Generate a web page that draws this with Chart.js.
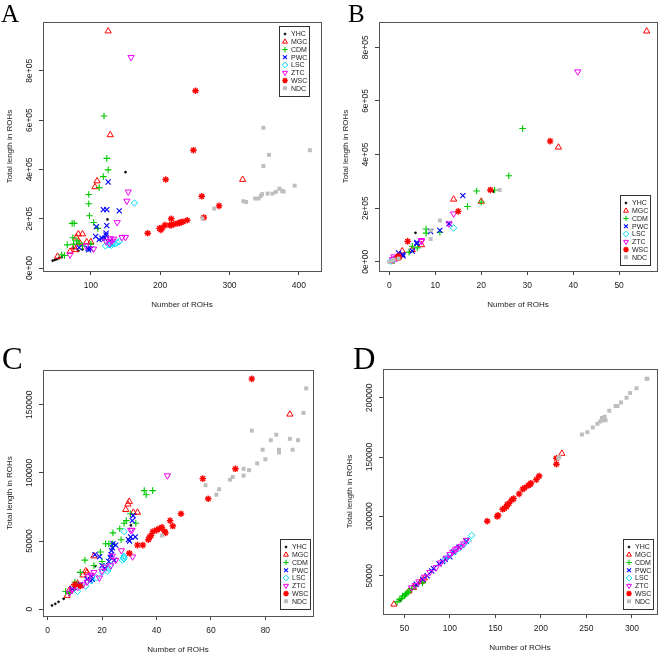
<!doctype html>
<html lang="en">
<head>
<meta charset="utf-8">
<title>ROHs</title>
<script src="https://cdn.jsdelivr.net/npm/chart.js@4/dist/chart.umd.min.js"></script>
<style>
  body { margin: 0; background: #fff; }
  #grid { display: grid; grid-template-columns: 329px 329px; grid-template-rows: 326px 326px; width: 658px; }
  canvas { display: block; }
</style>
</head>
<body>
<div id="grid">
  <canvas id="pA" width="329" height="326"></canvas>
  <canvas id="pB" width="329" height="326"></canvas>
  <canvas id="pC" width="329" height="326"></canvas>
  <canvas id="pD" width="329" height="326"></canvas>
</div>
<script>
// groups (legend order)
const groupNames = ['YHC', 'MGC', 'CDM', 'PWC', 'LSC', 'ZTC', 'WSC', 'NDC'];

// data: [number of ROHs, total length in ROHs / 1000]
// panel A
const aYHC = [[45,30],[48,33],[51,36],[54,40],[58,44],[75,80],[82,70],[88,76],[124,197],[150,389]];
const aMGC = [[52,47],[70,67],[76,85],[78,74],[79,125],[82,138],[84,102],[88,138],[94,106],[100,106],[106,329],[109,353],[125,961],[128,540],[319,359]];
const aCDM = [[58,54],[62,51],[66,94],[73,181],[76,181],[74,123],[75,97],[80,110],[83,101],[88,90],[97,298],[97,261],[98,212],[100,97],[104,185],[110,161],[112,326],[118,371],[119,617],[123,445],[125,398]];
const aPWC = [[83,83],[96,80],[97,74],[100,78],[107,128],[108,168],[112,115],[116,121],[118,237],[120,121],[122,141],[122,133],[123,172],[123,237],[125,349],[128,110],[141,232]];
const aLSC = [[121,90],[126,94],[128,96],[130,92],[132,100],[135,98],[138,103],[141,107],[163,264]];
const aZTC = [[70,54],[93,90],[104,78],[122,108],[127,100],[128,120],[130,110],[133,118],[138,185],[145,125],[150,125],[152,272],[154,309],[158,855]];
const aWSC = [[182,141],[199,161],[201,155],[203,163],[207,174],[208,359],[214,174],[216,174],[216,200],[220,178],[225,181],[228,183],[230,186],[233,188],[239,194],[248,478],[251,719],[260,291],[263,205],[285,252]];
const aNDC = [[261,201],[278,241],[320,271],[324,268],[337,282],[342,282],[345,292],[347,300],[349,414],[349,569],[355,302],[357,459],[362,302],[367,309],[372,322],[376,313],[378,310],[394,334],[416,478]];

// panel B
const bYHC = [[0.3,3],[1,6],[2,12],[3,22],[5.7,108],[22.7,262]];
const bMGC = [[0.5,2],[2.8,40],[5,45],[7,63],[14,233],[20,225],[36.8,427],[56,860]];
const bCDM = [[1,5],[2,15],[4.3,36],[5,58],[6.1,52],[8,122],[8,107],[11,110],[17,206],[19,264],[20,222],[22.9,268],[26,321],[29,497]];
const bPWC = [[2,33],[2.9,27],[3,22],[5,40],[6,72],[6,68],[9,113],[11,117],[13,142],[16,247]];
const bLSC = [[0.3,2],[1,8],[14,126]];
const bZTC = [[0.7,9],[1,19],[1.4,12],[1.7,15],[7,80],[7,76],[13,142],[14,179],[41,709]];
const bWSC = [[1.7,15],[2,21],[2.1,15],[4,76],[15,188],[22,268],[35,450]];
const bNDC = [[0,0],[0.7,5],[1,8],[2,12],[9,117],[9,85],[11,154],[24,268]];

// panel C
const cYHC = [[1.6,2.7],[2.8,3.9],[4,5.4],[5.9,7.6],[8,11],[10,15],[12,18],[17.5,31.6],[30.6,61.5]];
const cMGC = [[7.2,10],[8,14],[9,16],[10.5,18],[11,19],[13,25],[14,28],[14.5,27],[17,39],[28.7,73],[29.5,77],[30,79],[31.5,71],[33,71],[89,143]];
const cCDM = [[6.6,13],[8,12],[10,20],[12,27],[13.7,36],[17,32],[19.4,42],[20,35],[21.3,48],[22.5,48],[23.8,48],[24,56],[26.5,59],[27,51],[28.1,63],[28.9,65],[30.4,70],[32.4,63],[35.5,87],[36.2,84],[38.6,87]];
const cPWC = [[9,15],[12,18],[14.5,22],[15.7,21],[16,24],[16.4,22],[17.4,40],[19.1,38.5],[20,32],[21,30],[22.5,35],[23,38],[23.3,40],[23.5,43],[23.8,45],[24,48],[24.5,36],[25,47],[29.7,51],[30.1,50],[30.5,53],[31.1,65],[31.4,68.6],[32.2,53]];
const cLSC = [[11,13],[14,17],[16,21],[18,23],[20,27],[21,31],[22,28],[22.5,30],[23,32],[27.5,36],[28,38],[28,37],[28.1,39],[28.1,57]];
const cZTC = [[8,12],[9,14],[11,16],[13,18],[14.5,20],[15,24],[16,25],[17,27],[19,23],[20,28],[21,31],[23.2,32],[23.8,39],[25,36],[27.1,43],[30.5,58],[31,58],[31.2,38.5],[44,98]];
const cWSC = [[10,18],[12,17],[30,41],[33,47],[35,47],[37,51],[37.5,53],[38,54],[38.7,57],[40,58],[41,59],[42,60],[43,57],[43.3,56],[45,65],[46,61],[49,70],[57,95.8],[59,81],[69,103],[75,169]];
const cNDC = [[42,54],[58,91],[62,84],[63,88],[67,95],[68,97],[72,98],[72,103],[74,102],[75,131],[77,107],[79,117],[80,110],[82,124],[84,128],[85,117],[85,115],[89,125],[90,117],[92,124],[94,144],[95,162]];

// panel D
const dYHC = [[45,29],[52,35],[58,39],[63,42],[68,46],[80,54]];
const dMGC = [[38.5,26],[55,37],[60,40],[68,45],[70,46],[72,48],[223,153]];
const dCDM = [[42,28],[45,30],[47,31],[48,33],[50,33],[51,34],[52,35],[54,36],[55,37],[58,39],[62,41],[70,44]];
const dPWC = [[63,43],[70,47],[75,50],[80,54],[82,56],[88,60],[92,62],[95,64],[100,66],[104,70],[110,74],[118,79]];
const dLSC = [[95,64],[98,66],[105,70],[110,73],[115,76],[120,80],[124,84]];
const dZTC = [[58,40],[62,42],[66,45],[72,49],[78,53],[85,57],[90,61],[96,65],[100,68],[103,70],[106,72],[108,73],[112,75],[115,77],[118,80]];
const dWSC = [[141,96],[152,100],[153,101],[158,106],[160,107],[162,108],[163,110],[165,111],[168,114],[170,115],[176,119],[180,123],[182,124],[186,126],[188,127],[189,128],[195,131],[198,134],[217,144],[217,149]];
const dNDC = [[219,149],[220,150],[245,169],[251,171],[257,175],[262,178],[265,180],[267,183],[268,181],[270,184],[271,181],[275,189],[282,193],[284,193],[288,196],[294,200],[298,204],[305,208],[316,216],[317,216]];

// ticks
const aXTicks = [100, 200, 300, 400];
const bXTicks = [0, 10, 20, 30, 40, 50];
const cXTicks = [0, 20, 40, 60, 80];
const dXTicks = [50, 100, 150, 200, 250, 300];
const sciYTicks = [0, 200000, 400000, 600000, 800000];
const sciYLabels = ['0e+00', '2e+05', '4e+05', '6e+05', '8e+05'];
const cYTicks = [0, 50000, 100000, 150000];
const dYTicks = [50000, 100000, 150000, 200000];

// R-like symbols for each group
const groupColors = ['#000000', '#ff0000', '#00c800', '#0000ff', '#00dcf5', '#f000f0', '#ff0000', '#bebebe'];
const groupStyles = [
  { pointStyle: 'circle', radius: 1.1, fill: true, bw: 0.5 },
  { pointStyle: 'triangle', radius: 3.6, bw: 1 },
  { pointStyle: 'cross', radius: 3.3, bw: 1.1 },
  { pointStyle: 'crossRot', radius: 3.6, bw: 1.1 },
  { pointStyle: 'rectRot', radius: 3.2, bw: 1 },
  { pointStyle: 'triangle', radius: 3.6, rot: 180, bw: 1 },
  { pointStyle: 'star', radius: 3.3, bw: 1.4 },
  { pointStyle: 'rect', radius: 2.8, fill: true, bw: 0 }
];

const SANS = '"Liberation Sans", Arial, Helvetica, sans-serif';
const SERIF = '"Liberation Serif", "Times New Roman", serif';

function rPlot(cfg) {
  return {
    id: 'rPlot',
    afterDraw(chart) {
      const ctx = chart.ctx, ca = chart.chartArea;
      const xs = chart.scales.x, ys = chart.scales.y;
      ctx.save();
      // box
      ctx.strokeStyle = '#555';
      ctx.lineWidth = 1;
      ctx.strokeRect(Math.round(ca.left) + 0.5, Math.round(ca.top) + 0.5,
        Math.round(ca.right - ca.left), Math.round(ca.bottom - ca.top));
      // tick labels
      ctx.fillStyle = '#222';
      ctx.font = '8.5px ' + SANS;
      ctx.textAlign = 'center';
      ctx.textBaseline = 'middle';
      cfg.xTicks.forEach(v => ctx.fillText(String(v), xs.getPixelForValue(v), ca.bottom + 14.7));
      cfg.yTicks.forEach((v, i) => {
        ctx.save();
        ctx.translate(ca.left - 13.5, ys.getPixelForValue(v));
        ctx.rotate(-Math.PI / 2);
        ctx.fillText(cfg.yLabels[i], 0, 0);
        ctx.restore();
      });
      // axis titles
      ctx.font = '8px ' + SANS;
      ctx.fillText('Number of ROHs', (ca.left + ca.right) / 2, ca.bottom + 34);
      ctx.save();
      ctx.translate(ca.left - 33, (ca.top + ca.bottom) / 2);
      ctx.rotate(-Math.PI / 2);
      ctx.fillText('Total length in ROHs', 0, 0);
      ctx.restore();
      // panel letter
      ctx.fillStyle = '#000';
      ctx.font = cfg.letter.size + 'px ' + SERIF;
      ctx.textAlign = 'left';
      ctx.textBaseline = 'alphabetic';
      ctx.fillText(cfg.letter.text, cfg.letter.x, cfg.letter.y);
      // legend
      const lg = cfg.legend, w = 30, h = 70, rowH = 7.75;
      const x0 = Math.round(ca.right - lg.dx - w);
      const y0 = Math.round(lg.top ? ca.top + lg.dy : ca.bottom - lg.dy - h);
      ctx.fillStyle = '#fff';
      ctx.fillRect(x0, y0, w, h);
      ctx.strokeStyle = '#333';
      ctx.strokeRect(x0 + 0.5, y0 + 0.5, w, h);
      ctx.font = '7px ' + SANS;
      ctx.textBaseline = 'middle';
      chart.data.datasets.forEach((ds, i) => {
        const cy = y0 + 8 + rowH * i;
        ctx.fillStyle = ds.backgroundColor;
        ctx.strokeStyle = ds.borderColor;
        ctx.lineWidth = ds.borderWidth;
        Chart.helpers.drawPoint(ctx, {
          pointStyle: ds.pointStyle, rotation: ds.pointRotation,
          radius: Math.min(ds.pointRadius, 2.8), borderWidth: ds.borderWidth
        }, x0 + 6, cy);
        ctx.fillStyle = '#222';
        ctx.fillText(ds.label, x0 + 12, cy + 0.5);
      });
      ctx.restore();
    }
  };
}

function makePanel(id, series, cfg) {
  const datasets = series.map((pts, i) => {
    const st = groupStyles[i];
    return {
      label: groupNames[i],
      data: pts.map(p => ({ x: p[0], y: p[1] * 1000 })),
      pointStyle: st.pointStyle,
      pointRadius: st.radius,
      pointRotation: st.rot || 0,
      borderColor: groupColors[i],
      backgroundColor: st.fill ? groupColors[i] : 'rgba(0,0,0,0)',
      borderWidth: st.bw,
      order: series.length - i,
      clip: false
    };
  });
  new Chart(document.getElementById(id), {
    type: 'scatter',
    data: { datasets },
    options: {
      responsive: false,
      animation: false,
      events: [],
      layout: { autoPadding: false, padding: { top: cfg.box.top, right: cfg.box.right, left: 0, bottom: 0 } },
      plugins: { legend: { display: false }, tooltip: { enabled: false } },
      scales: {
        x: {
          type: 'linear', min: cfg.xRange[0], max: cfg.xRange[1],
          afterBuildTicks: s => { s.ticks = cfg.xTicks.map(v => ({ value: v })); },
          afterFit: s => { s.height = cfg.box.bottom; },
          ticks: { display: false },
          grid: { drawOnChartArea: false, drawTicks: true, tickLength: 4, tickColor: '#444', tickWidth: 1 },
          border: { display: false }
        },
        y: {
          type: 'linear', min: cfg.yRange[0], max: cfg.yRange[1],
          afterBuildTicks: s => { s.ticks = cfg.yTicks.map(v => ({ value: v })); },
          afterFit: s => { s.width = cfg.box.left; },
          ticks: { display: false },
          grid: { drawOnChartArea: false, drawTicks: true, tickLength: 4, tickColor: '#444', tickWidth: 1 },
          border: { display: false }
        }
      }
    },
    plugins: [rPlot(cfg)]
  });
}

makePanel('pA', [aYHC, aMGC, aCDM, aPWC, aLSC, aZTC, aWSC, aNDC], {
  xRange: [31, 432], yRange: [-12000, 998000],
  xTicks: aXTicks, yTicks: sciYTicks, yLabels: sciYLabels,
  box: { left: 43, right: 8, top: 22, bottom: 55 },
  legend: { top: true, dx: 12, dy: 4 },
  letter: { text: 'A', x: 1, y: 21.5, size: 25 }
});
makePanel('pB', [bYHC, bMGC, bCDM, bPWC, bLSC, bZTC, bWSC, bNDC], {
  xRange: [-2.24, 58.24], yRange: [-34400, 894400],
  xTicks: bXTicks, yTicks: sciYTicks, yLabels: sciYLabels,
  box: { left: 50, right: 1, top: 22, bottom: 55 },
  legend: { top: false, dx: 7, dy: 6 },
  letter: { text: 'B', x: 19, y: 21.5, size: 25 }
});
makePanel('pC', [cYHC, cMGC, cCDM, cPWC, cLSC, cZTC, cWSC, cNDC], {
  xRange: [-1.7, 97.5], yRange: [-5000, 175500],
  xTicks: cXTicks, yTicks: cYTicks, yLabels: cYTicks.map(String),
  box: { left: 43, right: 16, top: 44, bottom: 36 },
  legend: { top: false, dx: 3.5, dy: 7 },
  letter: { text: 'C', x: 2, y: 43.3, size: 31 }
});
makePanel('pD', [dYHC, dMGC, dCDM, dPWC, dLSC, dZTC, dWSC, dNDC], {
  xRange: [26.5, 327.5], yRange: [17800, 224200],
  xTicks: dXTicks, yTicks: dYTicks, yLabels: dYTicks.map(String),
  box: { left: 54, right: 1, top: 43, bottom: 38 },
  legend: { top: false, dx: 4, dy: 5 },
  letter: { text: 'D', x: 24, y: 43.3, size: 31 }
});
</script>
</body>
</html>
